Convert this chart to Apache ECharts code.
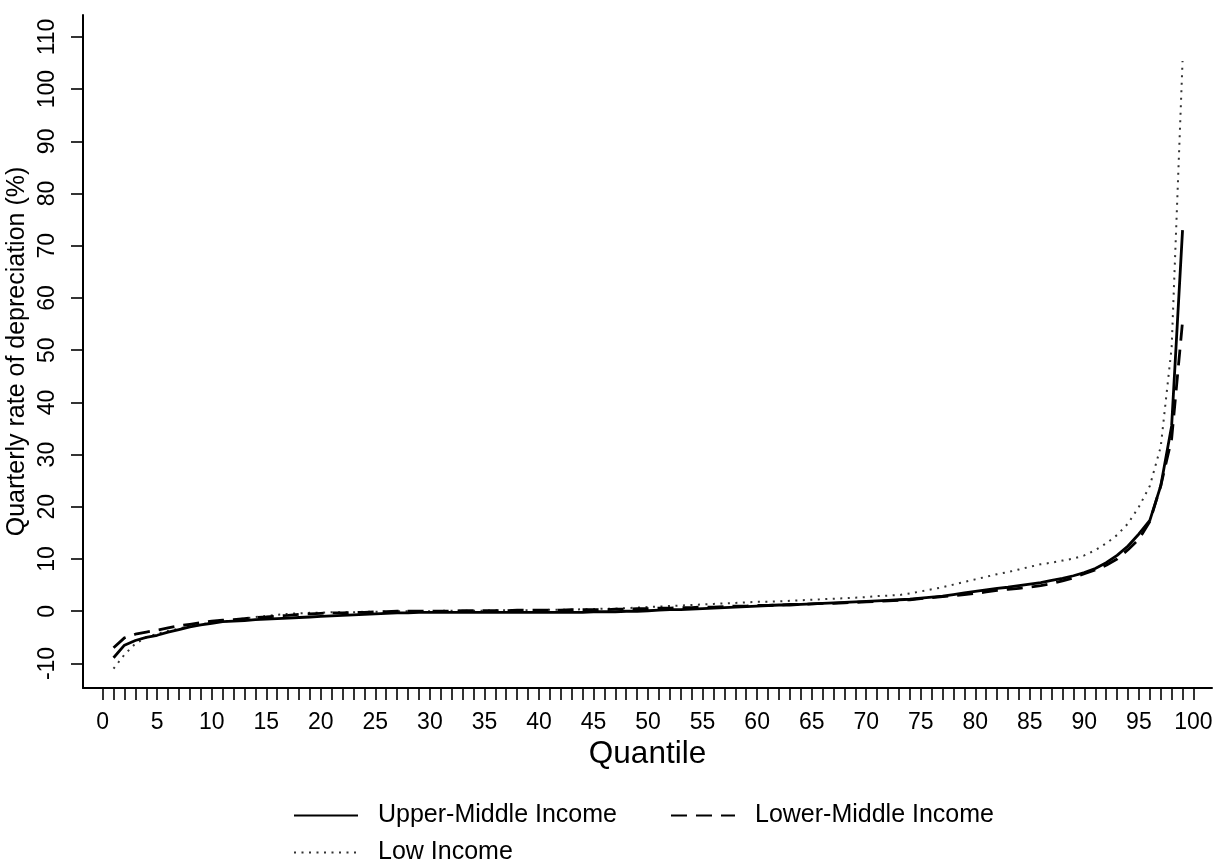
<!DOCTYPE html>
<html>
<head>
<meta charset="utf-8">
<script src="https://cdn.jsdelivr.net/npm/echarts@6/dist/echarts.min.js"></script>
<style>
html,body{margin:0;padding:0;background:#fff;}
#chart{width:1215px;height:859px;}
</style>
</head>
<body>
<div id="chart"></div>
<script>
const quantiles = [1,2,3,4,5,6,7,8,9,10,11,12,13,14,15,16,17,18,19,20,
  21,22,23,24,25,26,27,28,29,30,31,32,33,34,35,36,37,38,39,40,
  41,42,43,44,45,46,47,48,49,50,51,52,53,54,55,56,57,58,59,60,
  61,62,63,64,65,66,67,68,69,70,71,72,73,74,75,76,77,78,79,80,
  81,82,83,84,85,86,87,88,89,90,91,92,93,94,95,96,97,98,99];

const upperMiddle = [
  -8.9,-6.5,-5.6,-5.0,-4.6,-4.0,-3.5,-3.0,-2.6,-2.3,
  -2.0,-1.9,-1.8,-1.6,-1.5,-1.4,-1.3,-1.2,-1.1,-1.0,
  -0.9,-0.8,-0.7,-0.6,-0.5,-0.4,-0.3,-0.3,-0.2,-0.2,
  -0.2,-0.2,-0.2,-0.2,-0.2,-0.2,-0.2,-0.2,-0.2,-0.2,
  -0.2,-0.2,-0.2,-0.2,-0.1,-0.1,-0.1,0.0,0.0,0.1,
  0.2,0.3,0.3,0.4,0.5,0.6,0.7,0.8,0.9,1.0,
  1.1,1.2,1.2,1.3,1.4,1.5,1.6,1.7,1.8,1.9,
  2.0,2.1,2.2,2.3,2.5,2.7,2.9,3.2,3.5,3.8,
  4.1,4.4,4.6,4.9,5.2,5.5,5.9,6.3,6.8,7.4,
  8.2,9.3,10.7,12.5,14.8,17.4,24.0,35.5,73.0];

const lowerMiddle = [
  -7.0,-5.1,-4.4,-4.0,-3.6,-3.2,-2.8,-2.5,-2.2,-1.9,
  -1.7,-1.6,-1.4,-1.2,-1.1,-0.9,-0.8,-0.6,-0.5,-0.4,
  -0.3,-0.3,-0.2,-0.2,-0.1,-0.1,0.0,0.0,0.0,0.0,
  0.0,0.0,0.1,0.1,0.1,0.1,0.1,0.2,0.2,0.2,
  0.2,0.2,0.3,0.3,0.3,0.3,0.4,0.4,0.5,0.5,
  0.6,0.6,0.7,0.7,0.8,0.8,0.9,1.0,1.0,1.1,
  1.1,1.2,1.3,1.3,1.4,1.5,1.5,1.6,1.7,1.8,
  1.9,2.0,2.1,2.2,2.4,2.6,2.8,3.0,3.2,3.4,
  3.7,4.0,4.2,4.4,4.6,4.9,5.3,5.8,6.4,7.2,
  7.9,8.8,10.0,11.8,13.8,17.2,24.0,33.0,55.5];

const lowIncome = [
  -11.0,-8.3,-6.2,-5.0,-4.3,-3.8,-3.3,-2.9,-2.5,-2.2,
  -2.0,-1.7,-1.4,-1.1,-0.9,-0.7,-0.5,-0.4,-0.3,-0.3,
  -0.2,-0.2,-0.2,-0.1,-0.1,-0.1,0.0,0.0,0.0,0.0,
  0.1,0.1,0.1,0.1,0.1,0.2,0.2,0.2,0.2,0.2,
  0.3,0.3,0.3,0.4,0.4,0.5,0.5,0.6,0.7,0.8,
  0.9,1.0,1.1,1.2,1.3,1.4,1.5,1.6,1.7,1.8,
  1.8,1.9,2.0,2.1,2.2,2.3,2.4,2.5,2.6,2.7,
  2.9,3.0,3.1,3.4,3.8,4.2,4.6,5.1,5.6,6.1,
  6.6,7.1,7.5,8.0,8.5,9.0,9.3,9.7,10.1,10.7,
  11.7,13.0,14.6,16.8,20.0,24.0,31.5,50.5,105.4];

const xTickValues = [0,1,2,3,4,5,6,7,8,9,10,11,12,13,14,15,16,17,18,19,20,
  21,22,23,24,25,26,27,28,29,30,31,32,33,34,35,36,37,38,39,40,
  41,42,43,44,45,46,47,48,49,50,51,52,53,54,55,56,57,58,59,60,
  61,62,63,64,65,66,67,68,69,70,71,72,73,74,75,76,77,78,79,80,
  81,82,83,84,85,86,87,88,89,90,91,92,93,94,95,96,97,98,99,100];
const xTickLabels = [0,5,10,15,20,25,30,35,40,45,50,55,60,65,70,75,80,85,90,95,100];
const yTickLabels = [-10,0,10,20,30,40,50,60,70,80,90,100,110];

const seriesNames = ['Upper-Middle Income','Lower-Middle Income','Low Income'];

const FONT = '"Liberation Sans", Arial, Helvetica, sans-serif';

function pairs(vals){ return quantiles.map((q,i)=>[q, vals[i]]); }

const legendCommon = {
  orient:'horizontal', padding:0,
  itemWidth:64, itemHeight:14, itemGap:53,
  itemStyle:{color:'rgba(0,0,0,0)', borderColor:'rgba(0,0,0,0)', borderWidth:0},
  textStyle:{fontFamily:FONT, fontSize:25, color:'#000', padding:[0,0,0,15]}
};

const chart = echarts.init(document.getElementById('chart'), null, {renderer:'canvas'});
chart.setOption({
  backgroundColor:'#ffffff',
  animation:false,
  grid:{left:83, right:3, top:15, bottom:171, containLabel:false, outerBoundsMode:'none'},
  xAxis:{
    type:'value', min:-1.8, max:101.7,
    name:'Quantile', nameLocation:'middle', nameGap:50, nameMoveOverlap:false,
    nameTextStyle:{fontFamily:FONT, fontSize:31.5, color:'#000'},
    axisLine:{show:true, onZero:false, lineStyle:{color:'#000', width:2}},
    axisTick:{show:true, customValues:xTickValues, length:12, lineStyle:{color:'#000', width:1.6}},
    axisLabel:{customValues:xTickLabels, fontFamily:FONT, fontSize:23, color:'#000', margin:23},
    splitLine:{show:false}
  },
  yAxis:{
    type:'value', min:-14.7, max:114.2,
    name:'Quarterly rate of depreciation (%)', nameLocation:'middle', nameGap:53, nameRotate:90,
    nameMoveOverlap:false,
    nameTextStyle:{fontFamily:FONT, fontSize:25, color:'#000'},
    axisLine:{show:true, onZero:false, lineStyle:{color:'#000', width:2}},
    axisTick:{show:true, customValues:yTickLabels, length:12, lineStyle:{color:'#000', width:1.6}},
    axisLabel:{customValues:yTickLabels, rotate:90, fontFamily:FONT, fontSize:23, color:'#000', margin:24},
    splitLine:{show:false}
  },
  legend:[
    Object.assign({}, legendCommon, {data:[seriesNames[0], seriesNames[1]], left:293, top:803}),
    Object.assign({}, legendCommon, {data:[seriesNames[2]], left:293, top:840})
  ],
  series:[
    {
      name:seriesNames[0], type:'line', data:pairs(upperMiddle),
      showSymbol:false, symbol:'none', smooth:false,
      lineStyle:{color:'#000', width:2.8, type:'solid'},
      itemStyle:{color:'#000'}, z:3
    },
    {
      name:seriesNames[1], type:'line', data:pairs(lowerMiddle),
      showSymbol:false, symbol:'none', smooth:false,
      lineStyle:{color:'#000', width:2.8, type:[16,9]},
      itemStyle:{color:'#000'}, z:2
    },
    {
      name:seriesNames[2], type:'line', data:pairs(lowIncome),
      showSymbol:false, symbol:'none', smooth:false,
      lineStyle:{color:'#333', width:2, type:[2,5.5]},
      itemStyle:{color:'#333'}, z:1
    }
  ]
});
</script>
</body>
</html>
